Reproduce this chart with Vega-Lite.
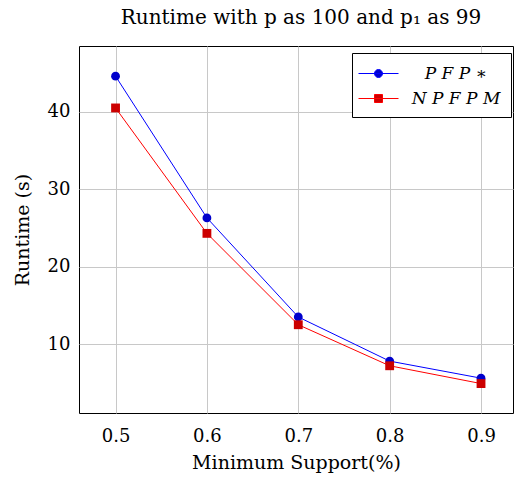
{
  "$schema": "https://vega.github.io/schema/vega-lite/v6.json",
  "autosize": {"type": "none"},
  "padding": {"left": 79, "top": 46, "right": 2, "bottom": 65},
  "width": 434,
  "height": 367,
  "background": "white",
  "title": {
    "text": "Runtime with p as 100 and p₁ as 99",
    "font": "DejaVu Serif",
    "fontSize": 20,
    "fontWeight": "normal",
    "color": "black",
    "anchor": "middle",
    "offset": 18,
    "dx": 5
  },
  "config": {
    "view": {"stroke": "black", "strokeWidth": 1},
    "axis": {
      "labelFont": "DejaVu Serif",
      "titleFont": "DejaVu Serif",
      "labelFontSize": 18,
      "titleFontSize": 19,
      "titleFontWeight": "normal",
      "labelColor": "black",
      "titleColor": "black",
      "gridColor": "#c8c8c8",
      "gridWidth": 1,
      "domain": false,
      "ticks": false
    }
  },
  "data": {
    "values": [
      {"support": 0.5, "runtime": 44.6, "series": "PFP*"},
      {"support": 0.6, "runtime": 26.3, "series": "PFP*"},
      {"support": 0.7, "runtime": 13.5, "series": "PFP*"},
      {"support": 0.8, "runtime": 7.8, "series": "PFP*"},
      {"support": 0.9, "runtime": 5.6, "series": "PFP*"},
      {"support": 0.5, "runtime": 40.5, "series": "NPFPM"},
      {"support": 0.6, "runtime": 24.3, "series": "NPFPM"},
      {"support": 0.7, "runtime": 12.5, "series": "NPFPM"},
      {"support": 0.8, "runtime": 7.2, "series": "NPFPM"},
      {"support": 0.9, "runtime": 4.9, "series": "NPFPM"}
    ]
  },
  "encoding": {
    "x": {
      "field": "support", "type": "quantitative",
      "scale": {"domain": [0.46, 0.935], "nice": false, "zero": false},
      "axis": {"values": [0.5, 0.6, 0.7, 0.8, 0.9], "format": ".1f", "title": "Minimum Support(%)", "labelPadding": 14, "titlePadding": 8}
    },
    "y": {
      "field": "runtime", "type": "quantitative",
      "scale": {"domain": [1.1, 48.5], "nice": false, "zero": false},
      "axis": {"values": [10, 20, 30, 40], "title": "Runtime (s)", "labelPadding": 9, "titlePadding": 15}
    }
  },
  "layer": [
    {
      "mark": {"type": "line", "strokeWidth": 1},
      "encoding": {
        "detail": {"field": "series", "type": "nominal"},
        "stroke": {"condition": {"test": "datum.series == 'PFP*'", "value": "#0000ff"}, "value": "#ff0000"}
      }
    },
    {
      "mark": {"type": "point", "filled": true, "opacity": 1, "size": 78},
      "encoding": {
        "fill": {"condition": {"test": "datum.series == 'PFP*'", "value": "#0000cc"}, "value": "#cc0000"},
        "shape": {"condition": {"test": "datum.series == 'PFP*'", "value": "circle"}, "value": "square"}
      }
    },
    {
      "transform": [{"filter": "false"}],
      "mark": {"type": "point", "filled": true, "opacity": 1, "strokeWidth": 1},
      "encoding": {
        "fill": {"field": "series", "type": "nominal", "scale": {"domain": ["PFP*", "NPFPM"], "range": ["#0000cc", "#cc0000"]}},
        "stroke": {"field": "series", "type": "nominal", "scale": {"domain": ["PFP*", "NPFPM"], "range": ["#0000ff", "#ff0000"]}},
        "shape": {"field": "series", "type": "nominal",
          "scale": {"domain": ["PFP*", "NPFPM"], "range": [
            "M-1.4,0L2.6,0M0.2,0A0.4,0.4,0,1,0,1,0A0.4,0.4,0,1,0,0.2,0Z",
            "M-1.4,0L2.6,0M0.2,-0.4L1,-0.4L1,0.4L0.2,0.4Z"
          ]},
          "legend": {
            "title": null,
            "orient": "none",
            "legendX": 273,
            "legendY": 7,
            "padding": 10,
            "strokeColor": "black",
            "fillColor": "white",
            "labelFont": "DejaVu Serif",
            "labelFontStyle": "italic",
            "labelFontSize": 17,
            "labelColor": "black",
            "labelAlign": "center",
            "labelOffset": 73,
            "labelExpr": "datum.value == 'PFP*' ? 'P F P ∗' : 'N P F P M'",
            "symbolSize": 400,
            "symbolStrokeWidth": 1,
            "symbolOpacity": 1,
            "rowPadding": 6
          }
        }
      }
    }
  ]
}
